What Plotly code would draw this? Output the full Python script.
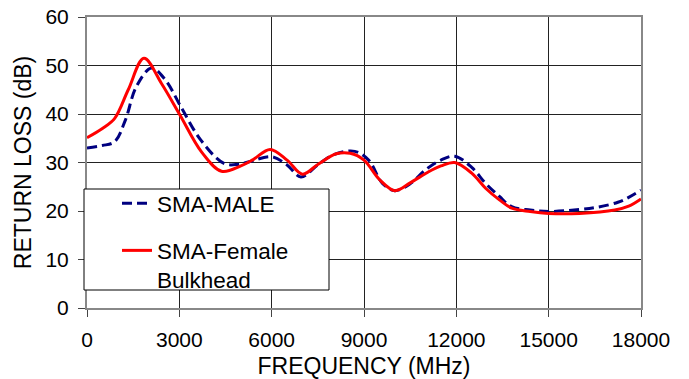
import plotly.graph_objects as go

# ---- data ----
male_freq = [0, 500, 900, 1250, 1600, 2100, 2550, 3050, 3700, 4450, 4900, 5300, 6000, 6500,
             6950, 7500, 8000, 8700, 9150, 9600, 10000, 10500, 11000, 11500, 11950, 12500,
             12950, 13400, 13800, 14400, 15000, 16000, 16600, 17250, 17600, 18000]
male_rl = [33.0, 33.5, 34.3, 38.8, 45.6, 49.5, 47.0, 41.5, 34.6, 29.8, 29.6, 30.2, 31.2, 29.5,
           27.0, 29.5, 31.6, 32.3, 30.5, 25.7, 24.2, 25.6, 28.5, 30.5, 31.3, 29.0,
           25.7, 23.0, 20.9, 20.2, 19.9, 20.3, 20.8, 21.8, 22.8, 24.3]

female_freq = [0, 500, 900, 1340, 1850, 2420, 3020, 3720, 4370, 5000, 5400, 5950, 6500, 7000,
               7500, 8100, 8550, 9000, 9500, 10000, 10500, 11100, 11500, 11950, 12500, 12950,
               13400, 13800, 14400, 15000, 16000, 17150, 17600, 18000]
female_rl = [35.1, 37.0, 39.1, 45.0, 51.5, 46.3, 39.8, 32.2, 28.2, 29.3, 30.6, 32.7, 30.5, 27.6,
             29.6, 31.8, 31.9, 30.5, 26.5, 24.2, 25.8, 28.1, 29.3, 30.0, 27.8, 24.7,
             22.3, 20.6, 19.9, 19.5, 19.5, 20.2, 21.0, 22.5]

x_ticks = [0, 3000, 6000, 9000, 12000, 15000, 18000]
y_ticks = [0, 10, 20, 30, 40, 50, 60]

FONT = "Liberation Sans, Arial, sans-serif"

fig = go.Figure()
fig.add_trace(go.Scatter(
    x=male_freq, y=male_rl, name="SMA-MALE", mode="lines",
    line=dict(color="#000080", width=3, dash="10px,5px", shape="spline", smoothing=1.0),
    legendgroup="a"))
fig.add_trace(go.Scatter(
    x=female_freq, y=female_rl, name="SMA-Female<br>Bulkhead", mode="lines",
    line=dict(color="#FF0000", width=3, shape="spline", smoothing=1.0),
    legendgroup="b"))

W, H = 689, 379
# plot area in page pixels: x 87..641, y 17..308
PX0, PX1, PY0, PY1 = 87, 641, 17, 308
L, T = PX0, PY0
R = W - PX1
B = H - PY1
pw, ph = PX1 - PX0, PY1 - PY0

def px(xp):
    return (xp - PX0) / pw

def py(yp):
    return (PY1 - yp) / ph

fig.add_shape(type="rect", xref="paper", yref="paper",
              x0=px(84), x1=px(329), y0=py(290), y1=py(189),
              line=dict(color="black", width=1), fillcolor="white", layer="above")

fig.update_layout(
    width=W, height=H,
    margin=dict(l=L, r=R, t=T, b=B, autoexpand=False),
    paper_bgcolor="white", plot_bgcolor="white",
    font=dict(family=FONT, size=21, color="black"),
    showlegend=True,
    legend=dict(x=px(117), y=py(182), xanchor="left", yanchor="top",
                bgcolor="rgba(0,0,0,0)", borderwidth=0,
                font=dict(size=22.5), traceorder="grouped", tracegroupgap=15,
                valign="top"),
)
fig.update_xaxes(
    range=[0, 18000], tickvals=x_ticks, ticktext=[str(v) for v in x_ticks],
    showgrid=True, gridcolor="#222222", gridwidth=1,
    showline=True, linecolor="#888888", linewidth=2, mirror=True,
    ticks="outside", ticklen=7, tickcolor="#444444", zeroline=False,
    automargin=False, ticklabeloverflow="allow", ticklabelstandoff=5,
    title=dict(text="FREQUENCY (MHz)", font=dict(size=23), standoff=16),
)
fig.update_yaxes(
    range=[0, 60], tickvals=y_ticks, ticktext=[str(v) for v in y_ticks],
    showgrid=True, gridcolor="#222222", gridwidth=1,
    showline=True, linecolor="#888888", linewidth=2, mirror=True,
    ticks="outside", ticklen=7, tickcolor="#444444", zeroline=False,
    automargin=False, ticklabeloverflow="allow", ticklabelstandoff=5,
    title=dict(text="RETURN LOSS (dB)", font=dict(size=23), standoff=7),
)

fig.write_html("out.html", config={"displayModeBar": False},
               post_script="document.body.style.margin='0';")
